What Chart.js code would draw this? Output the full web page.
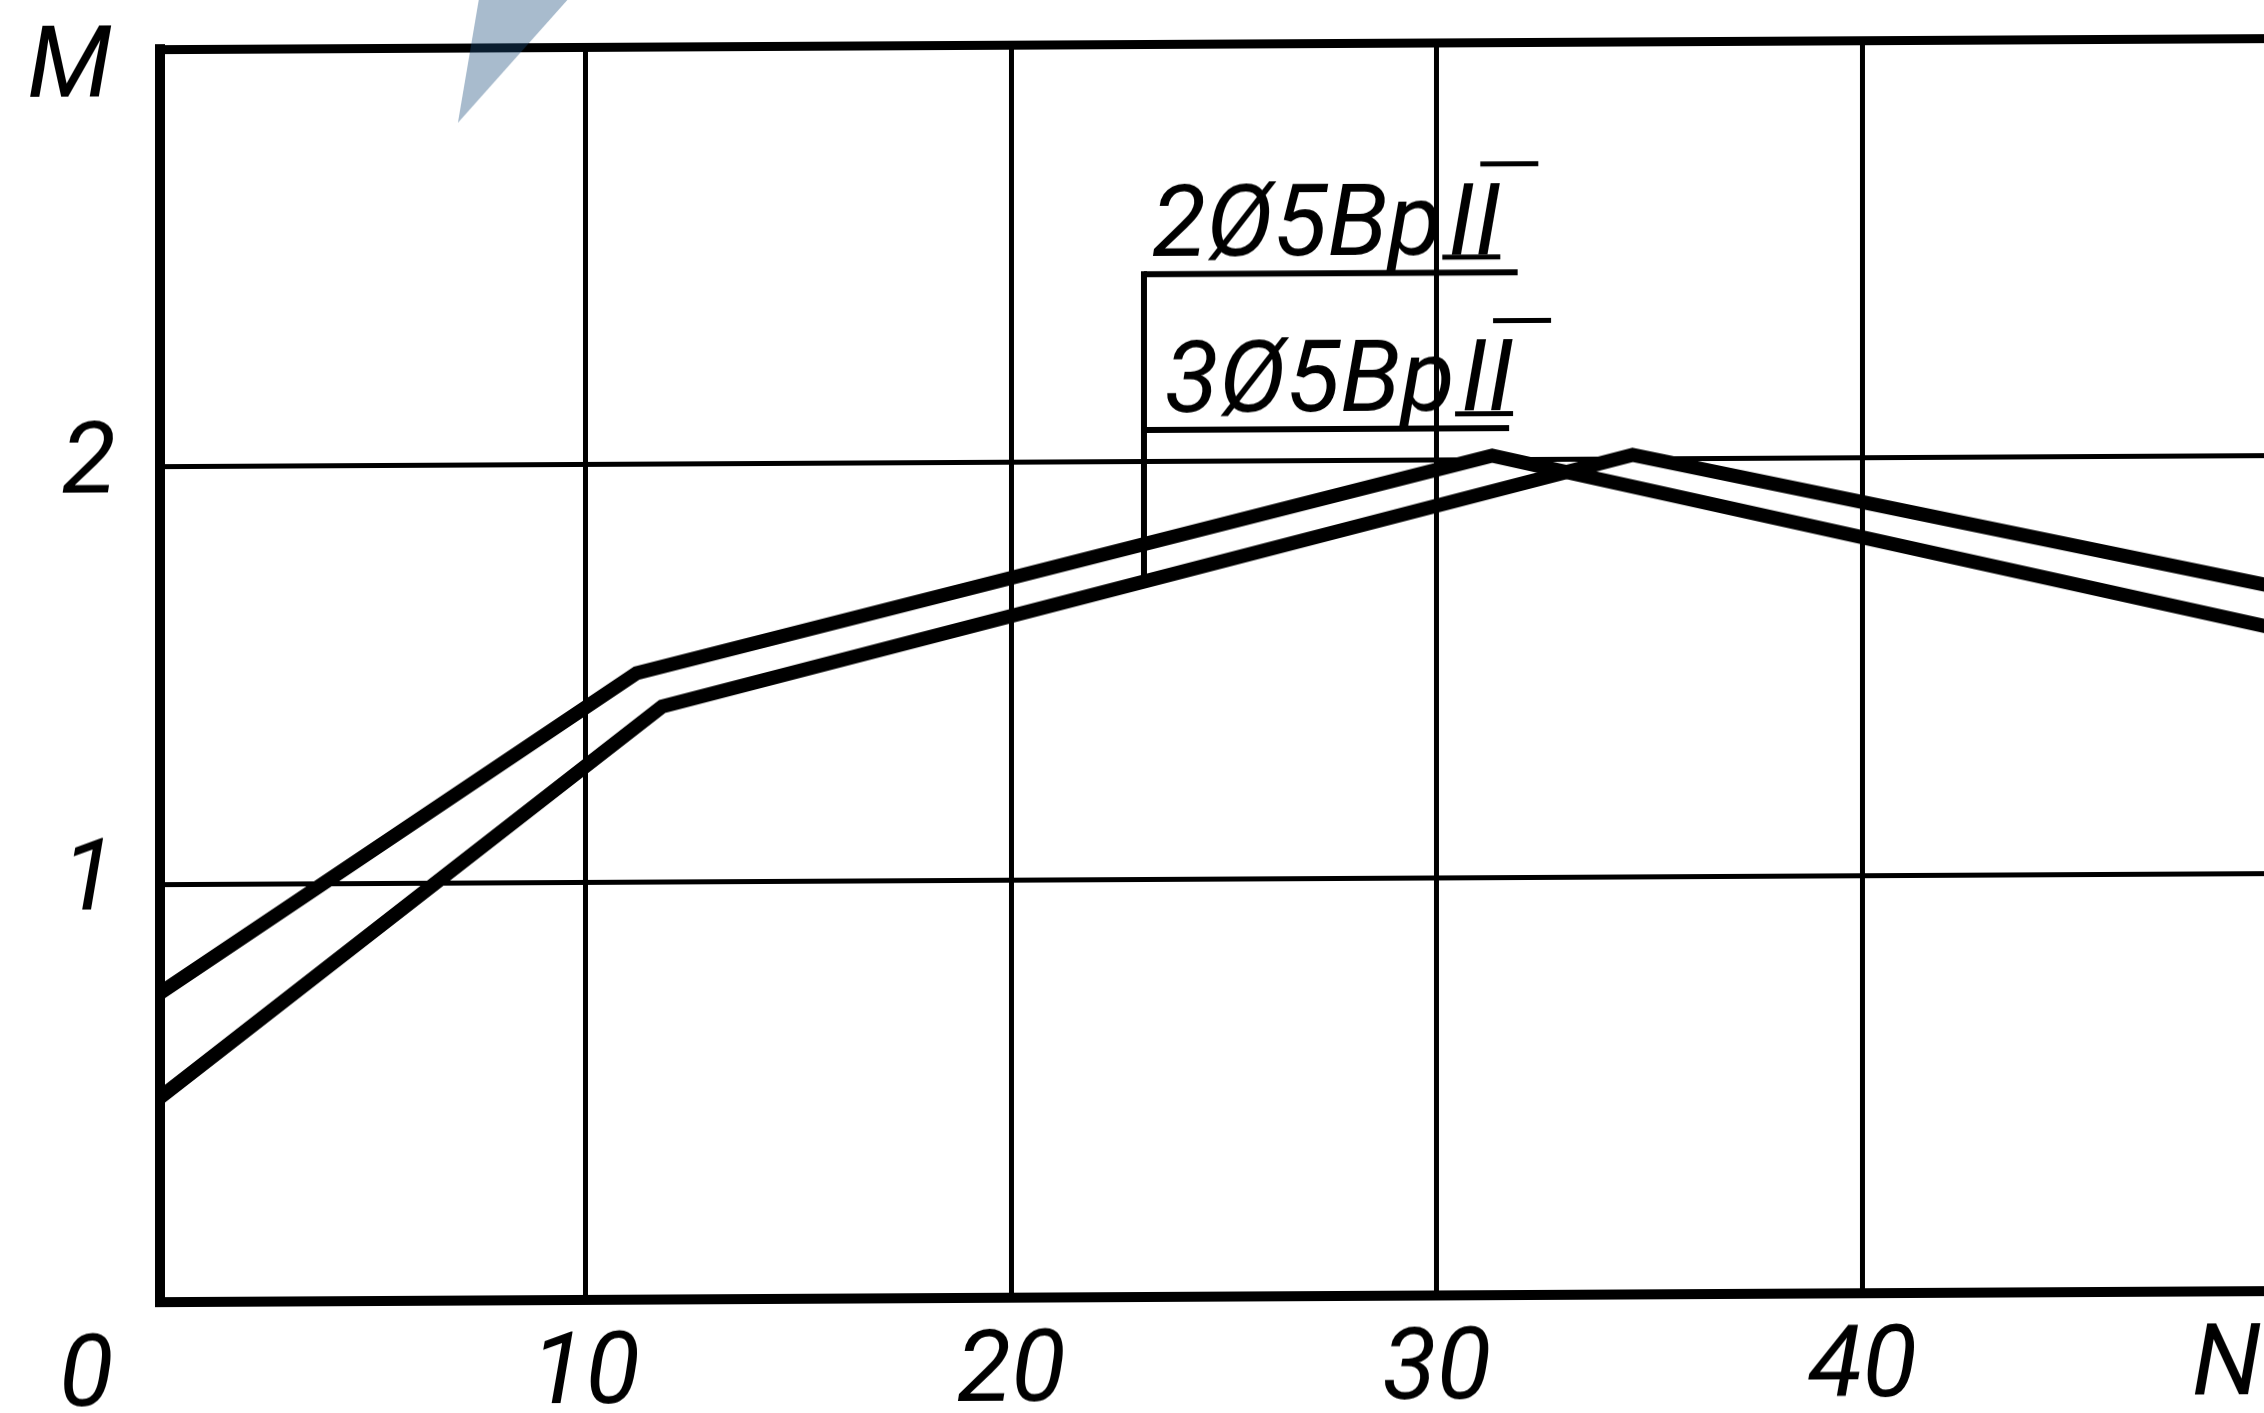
<!DOCTYPE html>
<html>
<head>
<meta charset="utf-8">
<script src="https://cdn.jsdelivr.net/npm/chart.js@4/dist/chart.umd.min.js"></script>
<style>
  html, body { margin: 0; padding: 0; background: #fff; overflow: hidden; }
  #wrap { position: relative; width: 2400px; height: 1413px; transform-origin: 0 0; transform: skewY(-0.3deg); }
</style>
</head>
<body>
<div id="wrap"><canvas id="c"></canvas></div>
<script>
// ---- data ----
const nA = [0, 11.2, 31.3, 50];          // N values, curve with 3Ø5Вр II
const mA = [0.74, 1.50, 2.01, 1.58];     // M values
const nB = [0, 11.8, 34.6, 50];          // N values, curve with 2Ø5Вр II
const mB = [0.49, 1.42, 2.01, 1.68];     // M values

const xTickValues = [0, 10, 20, 30, 40, 50];
const xTickLabels = ['0      ', '10', '20', '30', '40', 'N     '];
const yTickValues = [0, 1, 2, 3];
const yTickLabels = ['', '1', '2', ''];
const yAxisTitle = 'M';

const labelMain = ['2Ø5Вр', '3Ø5Вр'];
const labelClass = 'II';
// label anchors in data units: text left N, baseline M, underline M, underline N range
const labelN = [23.3, 23.6];
const labelBaseM = [2.493, 2.118];
const underlineM = [2.449, 2.076];
const underlineN0 = [23.12, 23.12];
const underlineN1 = [31.9, 31.7];
const leaderN = 23.12;

// scan stain (decoration) in data units
const stainN = [7.0, 7.55, 9.9];
const stainM = [2.82, 3.15, 3.15];

const FAMILY = 'Roboto, "Liberation Sans", sans-serif';
const FONT = 'italic 100px ' + FAMILY;

function pts(xs, ys) { return xs.map((x, i) => ({ x: x, y: ys[i] })); }
function interp(xs, ys, x) {
  for (let i = 0; i < xs.length - 1; i++) {
    if (x >= xs[i] && x <= xs[i + 1]) {
      return ys[i] + (ys[i + 1] - ys[i]) * (x - xs[i]) / (xs[i + 1] - xs[i]);
    }
  }
  return ys[ys.length - 1];
}

const annot = {
  id: 'annot',
  afterDatasetsDraw(chart) {
    const c = chart.ctx, sx = chart.scales.x, sy = chart.scales.y;
    c.save();
    c.fillStyle = '#000';
    c.strokeStyle = '#000';
    c.font = FONT;
    c.textBaseline = 'alphabetic';
    c.textAlign = 'left';
    for (let i = 0; i < labelMain.length; i++) {
      const x = sx.getPixelForValue(labelN[i]);
      const y = sy.getPixelForValue(labelBaseM[i]);
      c.fillText(labelMain[i], x, y);
      const w = c.measureText(labelMain[i]).width;
      const ix = x + w + 6;
      c.fillText(labelClass, ix, y);
      c.lineWidth = 5;
      c.beginPath();
      c.moveTo(ix + 32, y - 90); c.lineTo(ix + 90, y - 90);
      c.moveTo(ix - 6, y + 3); c.lineTo(ix + 52, y + 3);
      c.stroke();
      // underline
      c.lineWidth = 6;
      c.beginPath();
      const uy = sy.getPixelForValue(underlineM[i]);
      c.moveTo(sx.getPixelForValue(underlineN0[i]), uy);
      c.lineTo(sx.getPixelForValue(underlineN1[i]), uy);
      c.stroke();
    }
    // leader line from top label down to curve
    c.lineWidth = 6;
    c.beginPath();
    const lx = sx.getPixelForValue(leaderN);
    c.moveTo(lx, sy.getPixelForValue(underlineM[0]) - 3);
    c.lineTo(lx, sy.getPixelForValue(interp(nB, mB, leaderN)));
    c.stroke();
    // y axis title
    c.textAlign = 'right';
    c.textBaseline = 'middle';
    c.fillText(yAxisTitle, chart.chartArea.left - 48, sy.getPixelForValue(3) + 22);
    c.restore();
  },
  afterDraw(chart) {
    const c = chart.ctx, sx = chart.scales.x, sy = chart.scales.y;
    c.save();
    c.fillStyle = 'rgba(26,76,124,0.38)';
    c.beginPath();
    stainN.forEach((n, i) => {
      const px = sx.getPixelForValue(n), py = sy.getPixelForValue(stainM[i]);
      if (i === 0) c.moveTo(px, py); else c.lineTo(px, py);
    });
    c.closePath();
    c.fill();
    c.restore();
  }
};

const tickFont = { family: FAMILY, size: 100, style: 'italic', lineHeight: 1 };

new Chart(document.getElementById('c'), {
  type: 'line',
  data: {
    datasets: [
      { label: '3Ø5Вр II', data: pts(nA, mA), borderColor: '#000', borderWidth: 14, pointRadius: 0, tension: 0, fill: false, borderJoinStyle: 'miter' },
      { label: '2Ø5Вр II', data: pts(nB, mB), borderColor: '#000', borderWidth: 14, pointRadius: 0, tension: 0, fill: false, borderJoinStyle: 'miter' }
    ]
  },
  options: {
    responsive: true,
    maintainAspectRatio: false,
    devicePixelRatio: 1,
    animation: false,
    layout: { padding: { left: 0, top: 50, right: 112, bottom: 0 } },
    plugins: { legend: { display: false }, tooltip: { enabled: false } },
    scales: {
      x: {
        type: 'linear', min: 0, max: 50,
        afterBuildTicks(s) { s.ticks = xTickValues.map(v => ({ value: v })); },
        afterFit(s) { s.height = 110; s.paddingLeft = 0; s.paddingRight = 0; },
        ticks: {
          maxRotation: 0, autoSkip: false, padding: 28,
          color: '#000', font: tickFont,
          callback(v) { const i = xTickValues.indexOf(v); return i >= 0 ? xTickLabels[i] : ''; }
        },
        grid: { color: '#000', lineWidth: 5, drawTicks: false },
        border: { color: '#000', width: 10 }
      },
      y: {
        type: 'linear', min: 0, max: 3,
        afterBuildTicks(s) { s.ticks = yTickValues.map(v => ({ value: v })); },
        afterFit(s) { s.width = 160; s.paddingTop = 0; s.paddingBottom = 0; },
        ticks: {
          padding: 44, color: '#000', font: tickFont,
          callback(v) { const i = yTickValues.indexOf(v); return i >= 0 ? yTickLabels[i] : ''; }
        },
        grid: { color: '#000', lineWidth: (ctx) => (ctx.tick && ctx.tick.value === 3 ? 9 : 5), drawTicks: false },
        border: { color: '#000', width: 10 }
      }
    }
  },
  plugins: [annot]
});
</script>
</body>
</html>
